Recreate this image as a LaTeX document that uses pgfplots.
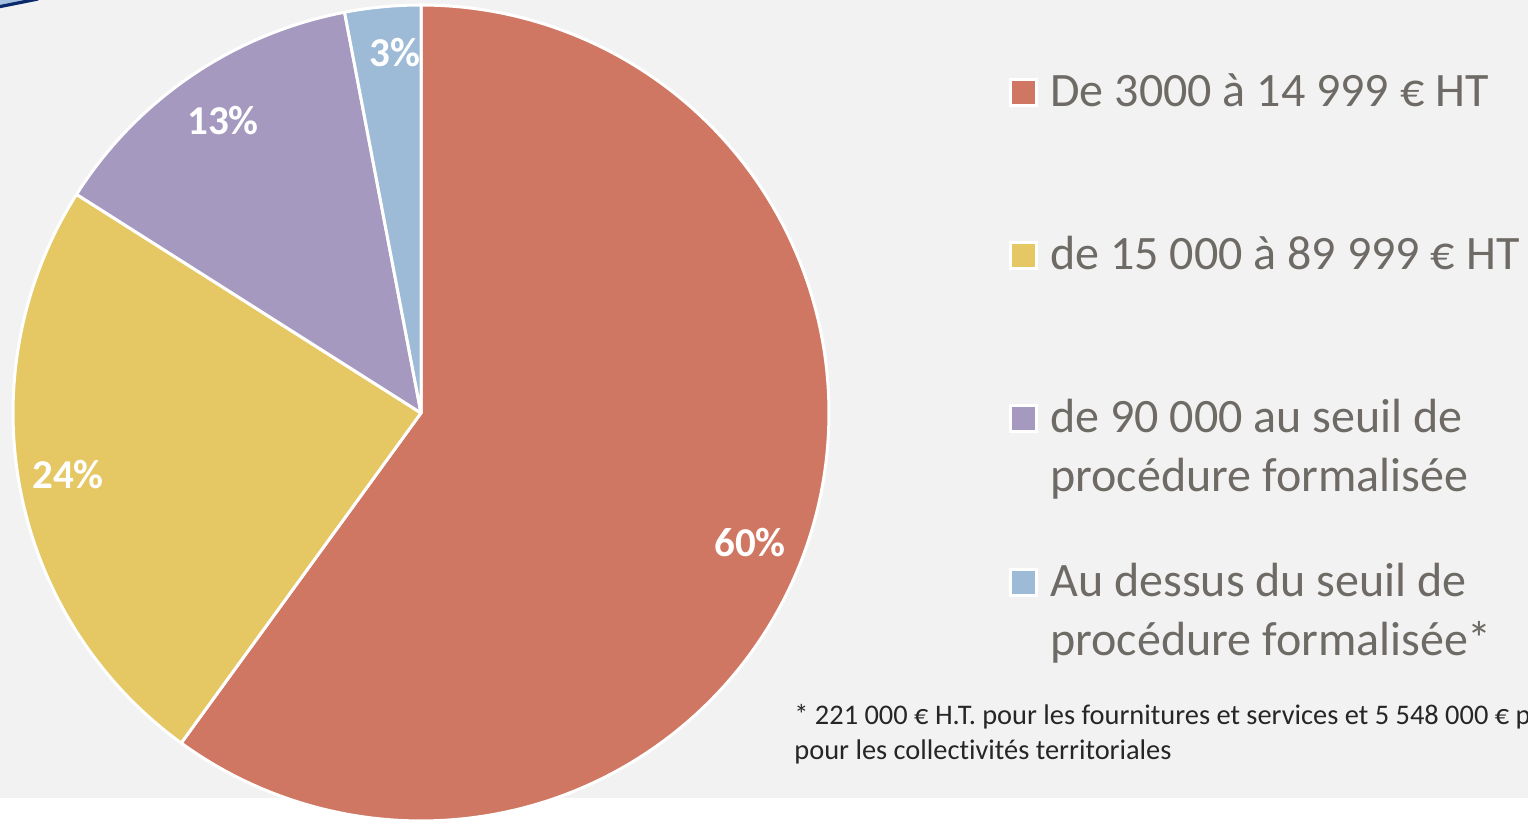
\documentclass[border=0pt]{standalone}
\usepackage{pgfplots}
\pgfplotsset{compat=1.18}
\usepackage{fontspec}
\setmainfont{Carlito}[Ligatures=NoCommon]
\definecolor{cA}{HTML}{CF7762}
\definecolor{cB}{HTML}{E5C764}
\definecolor{cC}{HTML}{A599C0}
\definecolor{cD}{HTML}{9DBAD6}
\definecolor{bg}{HTML}{F2F2F2}
\definecolor{legtxt}{HTML}{6E6A65}
\definecolor{foot}{HTML}{262626}
\definecolor{navy}{HTML}{0B2A6B}
\definecolor{lblue}{HTML}{A4C2E0}
% slice values (percent)
\def\vA{60}\def\vB{24}\def\vC{13}\def\vD{3}
\pgfmathsetmacro{\aA}{90}
\pgfmathsetmacro{\aB}{90-3.6*\vA}
\pgfmathsetmacro{\aC}{90-3.6*(\vA+\vB)}
\pgfmathsetmacro{\aD}{90-3.6*(\vA+\vB+\vC)}
\pgfmathsetmacro{\aE}{90-3.6*(\vA+\vB+\vC+\vD)}
\begin{document}
\begin{tikzpicture}
\useasboundingbox (0,0) rectangle (764pt,411pt);
\clip (0,0) rectangle (764pt,411pt);
\begin{axis}[scale only axis, width=764pt, height=411pt,
  xmin=0, xmax=1528, ymin=0, ymax=822, hide axis, clip=false,
  at={(0,0)}, anchor=south west]
% backgrounds
\fill[white] (axis cs:0,0) rectangle (axis cs:1528,822);
\fill[bg] (axis cs:0,24) rectangle (axis cs:1528,822);
\fill[lblue] (axis cs:0,822) -- (axis cs:0,817) -- (axis cs:28,822) -- cycle;
\draw[navy, line width=1.6pt] (axis cs:-2,815) -- (axis cs:38,823);
% pie slices
\addplot[fill=cA, draw=white, line width=1.5pt, line join=round, domain=\aB:\aA, samples=150]
  ({421+408*cos(x)},{409+408*sin(x)}) -- (axis cs:421,409) -- cycle;
\addplot[fill=cB, draw=white, line width=1.5pt, line join=round, domain=\aC:\aB, samples=80]
  ({421+408*cos(x)},{409+408*sin(x)}) -- (axis cs:421,409) -- cycle;
\addplot[fill=cC, draw=white, line width=1.5pt, line join=round, domain=\aD:\aC, samples=50]
  ({421+408*cos(x)},{409+408*sin(x)}) -- (axis cs:421,409) -- cycle;
\addplot[fill=cD, draw=white, line width=1.5pt, line join=round, domain=\aE:\aD, samples=20]
  ({421+408*cos(x)},{409+408*sin(x)}) -- (axis cs:421,409) -- cycle;
% labels
\begin{scope}[every node/.style={text=white, font=\fontsize{20.5}{24}\selectfont\bfseries, inner sep=0pt}]
\node at (axis cs:750,279) {60\%};
\node at (axis cs:68,347) {24\%};
\node at (axis cs:223,701) {13\%};
\node at (axis cs:395,769) {3\%};
\end{scope}
% legend
\begin{scope}[every node/.style={text=legtxt, font=\fontsize{24}{29}\selectfont, inner sep=0pt, anchor=base west}]
\filldraw[fill=cA, draw=white, line width=1.5pt] (axis cs:1010.5,716.5) rectangle (axis cs:1036.5,742.5);
\node at (axis cs:1050,715) {De 3000 à 14 999 € HT};
\filldraw[fill=cB, draw=white, line width=1.5pt] (axis cs:1010.5,553.5) rectangle (axis cs:1036.5,579.5);
\node at (axis cs:1050,552) {de 15 000 à 89 999 € HT};
\filldraw[fill=cC, draw=white, line width=1.5pt] (axis cs:1010.5,390.5) rectangle (axis cs:1036.5,416.5);
\node at (axis cs:1050,389) {de 90 000 au seuil de};
\node at (axis cs:1050,330) {procédure formalisée};
\filldraw[fill=cD, draw=white, line width=1.5pt] (axis cs:1010.5,226.5) rectangle (axis cs:1036.5,252.5);
\node at (axis cs:1050,225) {Au dessus du seuil de};
\node at (axis cs:1050,166) {procédure formalisée*};
\end{scope}
% footnote
\begin{scope}[every node/.style={text=foot, font=\fontsize{14.2}{17}\selectfont, inner sep=0pt, anchor=base west}]
\node at (axis cs:794,97) {* 221 000 € H.T. pour les fournitures et services et 5 548 000 € p};
\node at (axis cs:794,62) {pour les collectivités territoriales};
\end{scope}
\end{axis}
\end{tikzpicture}
\end{document}
